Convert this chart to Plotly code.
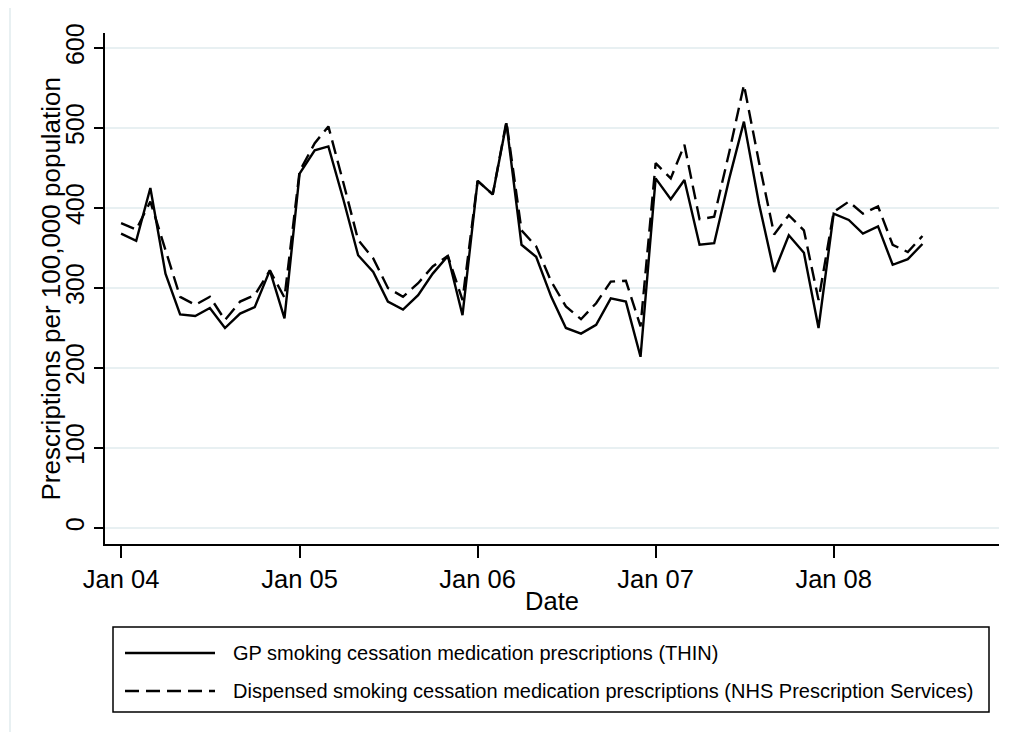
import plotly.graph_objects as go

# ---- data (monthly, Jan 2004 - Jul 2008) ----
months = [
    "2004-01", "2004-02", "2004-03", "2004-04", "2004-05", "2004-06",
    "2004-07", "2004-08", "2004-09", "2004-10", "2004-11", "2004-12",
    "2005-01", "2005-02", "2005-03", "2005-04", "2005-05", "2005-06",
    "2005-07", "2005-08", "2005-09", "2005-10", "2005-11", "2005-12",
    "2006-01", "2006-02", "2006-03", "2006-04", "2006-05", "2006-06",
    "2006-07", "2006-08", "2006-09", "2006-10", "2006-11", "2006-12",
    "2007-01", "2007-02", "2007-03", "2007-04", "2007-05", "2007-06",
    "2007-07", "2007-08", "2007-09", "2007-10", "2007-11", "2007-12",
    "2008-01", "2008-02", "2008-03", "2008-04", "2008-05", "2008-06",
    "2008-07",
]

thin_gp = [
    368, 359, 425, 318, 267, 265, 275, 250, 268, 276, 322, 262,
    443, 472, 477, 410, 341, 320, 283, 273, 291, 318, 340, 266,
    434, 417, 506, 354, 339, 289, 250, 243, 254, 287, 283, 214,
    437, 411, 435, 354, 356, 437, 508, 405, 320, 366, 344, 250,
    393, 385, 368, 377, 329, 336, 355,
]

nhs_dispensed = [
    381, 373, 408, 347, 289, 279, 289, 260, 283, 291, 322, 288,
    446, 481, 502, 431, 360, 337, 300, 289, 306, 327, 340, 285,
    434, 417, 508, 372, 352, 308, 277, 261, 281, 308, 309, 252,
    456, 437, 479, 386, 389, 470, 554, 457, 367, 391, 372, 285,
    395, 408, 393, 402, 354, 345, 365,
]

x_tick_vals = ["2004-01-01", "2005-01-01", "2006-01-01", "2007-01-01", "2008-01-01"]
x_tick_text = ["Jan 04", "Jan 05", "Jan 06", "Jan 07", "Jan 08"]
y_tick_vals = [0, 100, 200, 300, 400, 500, 600]

x_title = "Date"
y_title = "Prescriptions per 100,000 population"
legend_labels = [
    "GP smoking cessation medication prescriptions (THIN)",
    "Dispensed smoking cessation medication prescriptions (NHS Prescription Services)",
]

FONT = "Liberation Sans, Arial, sans-serif"
GRID = "#E8F0F2"
DASH = "14px,7px"

fig = go.Figure()
fig.add_trace(go.Scatter(
    x=months, y=thin_gp, mode="lines", name=legend_labels[0],
    line=dict(color="black", width=2.4), showlegend=False,
))
fig.add_trace(go.Scatter(
    x=months, y=nhs_dispensed, mode="lines", name=legend_labels[1],
    line=dict(color="black", width=2.4, dash=DASH), showlegend=False,
))

# page offset (body margin) compensation
OFF = 8
W, H = 1017 - OFF, 740 - 2 * OFF
# plot area in page pixels: x 105..999, y 33..544
L, R, T, B = 105 - OFF, 999 - OFF, 33 - OFF, 544 - OFF
pw, ph = R - L, B - T


def px(xp):
    return (xp - OFF - L) / pw


def py(yp):
    return (B - (yp - OFF)) / ph


shapes = [
    # outer graph-region frame (partly cropped)
    dict(type="rect", xref="paper", yref="paper",
         x0=px(10), x1=px(1040), y0=py(780), y1=py(5),
         line=dict(color=GRID, width=2), fillcolor="rgba(0,0,0,0)", layer="below"),
    # legend box
    dict(type="rect", xref="paper", yref="paper",
         x0=px(113), x1=px(989), y0=py(712), y1=py(627),
         line=dict(color="black", width=1.5), fillcolor="white"),
    dict(type="line", xref="paper", yref="paper",
         x0=px(125), x1=px(215), y0=py(653), y1=py(653),
         line=dict(color="black", width=2.4)),
    dict(type="line", xref="paper", yref="paper",
         x0=px(125), x1=px(215), y0=py(691), y1=py(691),
         line=dict(color="black", width=2.4, dash=DASH)),
]

annotations = [
    dict(xref="paper", yref="paper", x=px(231), y=py(653), xanchor="left", yanchor="middle",
         text=legend_labels[0], showarrow=False, font=dict(size=20, color="black", family=FONT)),
    dict(xref="paper", yref="paper", x=px(231), y=py(691), xanchor="left", yanchor="middle",
         text=legend_labels[1], showarrow=False, font=dict(size=20, color="black", family=FONT)),
    dict(xref="paper", yref="paper", x=px(50), y=py(288.5), xanchor="center", yanchor="middle",
         text=y_title, textangle=-90, showarrow=False,
         font=dict(size=26, color="black", family=FONT)),
]

fig.update_layout(
    width=W, height=H,
    margin=dict(l=L, r=W - R, t=T, b=H - B, pad=0),
    paper_bgcolor="white", plot_bgcolor="white",
    font=dict(family=FONT, color="black", size=25),
    shapes=shapes, annotations=annotations,
    showlegend=False,
)

fig.update_xaxes(
    type="date",
    range=["2003-11-29", "2008-12-05"],
    tickmode="array", tickvals=x_tick_vals, ticktext=x_tick_text,
    ticks="outside", ticklen=12, tickwidth=1.5, tickcolor="black",
    showline=True, linecolor="black", linewidth=1.5,
    showgrid=False, zeroline=False,
    tickfont=dict(size=25.5),
    title=dict(text=x_title, font=dict(size=25.5), standoff=0),
)

fig.update_yaxes(
    range=[-20, 618.75],
    tickmode="array", tickvals=y_tick_vals,
    tickangle=-90,
    ticks="outside", ticklen=9, tickwidth=1.5, tickcolor="black",
    ticklabelstandoff=0,
    showline=True, linecolor="black", linewidth=1.5,
    showgrid=True, gridcolor=GRID, gridwidth=2,
    zeroline=False,
    tickfont=dict(size=25),
)

fig.write_html("out.html")
